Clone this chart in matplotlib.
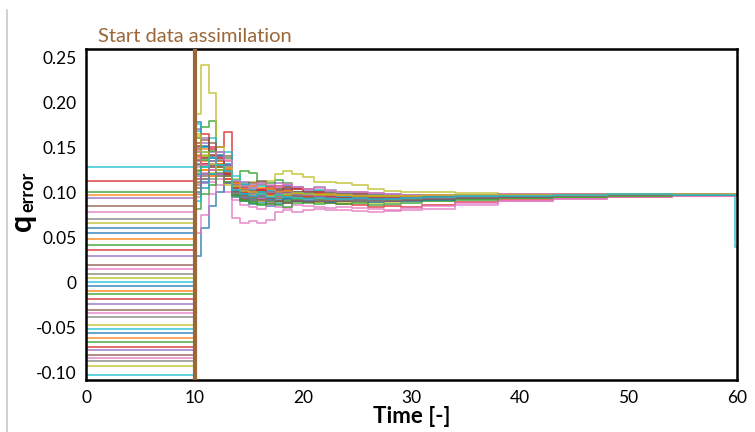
import numpy as np
import matplotlib.pyplot as plt
from matplotlib.lines import Line2D

plt.rcParams['font.family'] = ['Lato', 'DejaVu Sans']

# times where the ensemble values change (step plot), first entry is t=0
times = [0, 10, 10.6, 11.3, 12, 12.7, 13.5, 14.2, 15, 15.8, 16.6, 17.4, 18.2,
         19, 20, 21, 22, 23, 24.5, 26, 27.5, 29, 31, 34, 38, 43, 48, 54]
t_last = 59.8
t_end = 60

# q_error of each member before data assimilation starts
q_init = [.060, .097, .100, .113, .094, .085, .078, .070, .066, .128,
          .055, .048, .042, .036, .030, .020, .015, .010, .005, .001,
          -.004, -.009, -.013, -.018, -.024, -.030, -.034, -.038, -.047, -.052,
          -.056, -.061, -.066, -.071, -.075, -.080, -.084, -.087, -.093, -.102]

# q_error of each member from t=10 on (one row per member)
q_post = [
    [.178, .150, .135, .128, .120, .105, .101, .098, .103, .099, .101, .104, .100, .098, .097, .099, .096, .095, .094, .095, .096, .095, .096, .097, .097, .097, .098],
    [.110, .125, .118, .130, .122, .100, .096, .093, .095, .098, .094, .097, .099, .096, .098, .097, .095, .094, .093, .094, .095, .095, .096, .096, .097, .097, .097],
    [.160, .172, .179, .140, .125, .108, .124, .121, .112, .110, .114, .110, .106, .104, .102, .100, .101, .099, .098, .097, .097, .096, .097, .098, .097, .098, .098],
    [.140, .132, .138, .150, .167, .112, .104, .099, .102, .097, .094, .096, .092, .090, .091, .088, .087, .086, .084, .085, .084, .086, .089, .092, .094, .095, .096],
    [.150, .160, .145, .138, .128, .110, .106, .108, .104, .107, .110, .108, .106, .104, .106, .103, .101, .100, .099, .098, .097, .097, .097, .098, .098, .098, .098],
    [.120, .115, .128, .135, .118, .098, .093, .090, .092, .088, .090, .093, .091, .094, .092, .093, .091, .092, .090, .091, .092, .093, .094, .095, .096, .097, .097],
    [.095, .105, .112, .108, .100, .072, .066, .068, .066, .069, .078, .080, .078, .080, .082, .080, .081, .079, .078, .079, .080, .082, .086, .090, .093, .095, .096],
    [.130, .140, .125, .118, .112, .102, .098, .101, .097, .100, .102, .099, .101, .100, .098, .097, .095, .096, .094, .093, .094, .095, .095, .096, .097, .097, .098],
    [.187, .241, .210, .150, .135, .115, .110, .112, .108, .113, .120, .124, .120, .117, .112, .111, .110, .108, .104, .102, .101, .100, .099, .098, .098, .098, .098],
    [.176, .145, .130, .125, .132, .104, .101, .097, .095, .098, .095, .098, .099, .097, .099, .096, .094, .093, .092, .093, .092, .094, .096, .097, .097, .098, .097],
    [.030, .060, .085, .100, .110, .095, .090, .087, .089, .085, .087, .088, .090, .091, .089, .091, .090, .090, .089, .090, .091, .092, .093, .094, .095, .096, .097],
    [.125, .135, .142, .128, .115, .100, .104, .099, .101, .097, .099, .100, .098, .096, .094, .095, .092, .092, .091, .092, .093, .094, .095, .096, .096, .097, .097],
    [.145, .128, .120, .140, .138, .106, .097, .095, .093, .092, .090, .089, .090, .088, .089, .090, .091, .090, .091, .092, .093, .093, .094, .095, .096, .097, .097],
    [.115, .138, .150, .132, .124, .097, .093, .096, .099, .100, .097, .096, .095, .096, .097, .098, .097, .096, .096, .097, .096, .096, .097, .097, .098, .098, .098],
    [.170, .155, .140, .120, .110, .108, .112, .106, .109, .103, .105, .107, .105, .102, .100, .101, .099, .097, .096, .095, .095, .095, .096, .097, .097, .098, .098],
    [.105, .118, .130, .145, .140, .112, .108, .110, .113, .107, .104, .106, .104, .101, .099, .100, .098, .096, .095, .094, .095, .096, .096, .096, .097, .097, .098],
    [.055, .075, .098, .115, .125, .092, .086, .084, .082, .086, .084, .083, .086, .085, .084, .083, .084, .083, .082, .081, .083, .085, .088, .091, .093, .095, .096],
    [.135, .120, .115, .125, .130, .103, .099, .102, .100, .104, .101, .099, .100, .098, .099, .097, .096, .096, .095, .095, .095, .096, .096, .097, .097, .098, .098],
    [.122, .142, .135, .118, .108, .099, .096, .094, .091, .093, .091, .093, .092, .090, .089, .090, .088, .089, .088, .089, .090, .091, .093, .094, .095, .096, .097],
    [.168, .150, .160, .145, .132, .114, .109, .105, .107, .102, .099, .101, .100, .101, .103, .100, .099, .098, .097, .098, .097, .096, .097, .097, .098, .098, .098],
    [.100, .112, .120, .128, .120, .101, .098, .092, .094, .090, .092, .094, .095, .094, .093, .095, .094, .094, .093, .092, .093, .094, .095, .096, .097, .097, .097],
    [.138, .148, .128, .135, .126, .109, .103, .100, .098, .101, .096, .095, .097, .093, .094, .094, .093, .094, .094, .095, .094, .095, .096, .097, .097, .098, .097],
    [.082, .098, .108, .122, .118, .096, .090, .088, .086, .087, .086, .084, .088, .089, .087, .088, .087, .088, .086, .087, .088, .090, .092, .094, .095, .096, .097],
    [.155, .165, .148, .130, .115, .107, .102, .099, .104, .105, .107, .103, .104, .100, .101, .099, .098, .098, .096, .096, .096, .096, .097, .097, .098, .098, .098],
    [.118, .110, .125, .140, .128, .098, .094, .097, .093, .094, .096, .095, .097, .096, .095, .096, .095, .095, .094, .094, .095, .095, .096, .096, .097, .097, .097],
    [.148, .138, .155, .128, .122, .111, .106, .103, .101, .100, .103, .105, .101, .099, .097, .098, .097, .096, .095, .096, .096, .097, .097, .097, .097, .098, .098],
    [.128, .122, .132, .120, .135, .104, .100, .096, .094, .093, .091, .090, .092, .092, .091, .092, .091, .090, .090, .091, .092, .093, .094, .095, .096, .097, .097],
    [.112, .130, .140, .136, .125, .102, .097, .099, .101, .099, .101, .100, .098, .099, .098, .099, .098, .097, .097, .096, .097, .097, .097, .097, .098, .098, .098],
    [.162, .140, .122, .128, .118, .106, .101, .098, .096, .099, .094, .096, .094, .095, .093, .092, .092, .091, .091, .092, .093, .094, .095, .096, .096, .097, .097],
    [.090, .105, .120, .130, .145, .118, .108, .104, .100, .102, .099, .101, .099, .098, .097, .096, .095, .095, .094, .095, .095, .096, .097, .097, .098, .098, .098],
    [.132, .152, .138, .142, .130, .100, .095, .093, .096, .093, .091, .093, .090, .091, .090, .089, .090, .090, .089, .090, .091, .092, .094, .095, .096, .097, .097],
    [.142, .125, .118, .132, .126, .110, .104, .107, .105, .104, .100, .102, .098, .097, .098, .097, .097, .096, .096, .096, .096, .097, .097, .097, .098, .098, .098],
    [.124, .136, .146, .125, .112, .097, .092, .089, .087, .090, .089, .091, .093, .094, .092, .093, .094, .093, .092, .092, .093, .094, .095, .096, .097, .097, .097],
    [.152, .132, .128, .138, .120, .105, .100, .101, .103, .098, .097, .099, .096, .095, .096, .095, .094, .095, .094, .094, .095, .096, .096, .097, .097, .098, .098],
    [.108, .120, .135, .120, .130, .108, .103, .099, .097, .100, .098, .099, .097, .097, .095, .094, .093, .093, .092, .093, .094, .094, .095, .096, .097, .097, .097],
    [.136, .158, .142, .128, .118, .101, .097, .095, .092, .094, .090, .088, .090, .089, .090, .091, .090, .091, .092, .091, .092, .093, .094, .095, .096, .097, .098],
    [.146, .130, .125, .145, .136, .113, .107, .105, .110, .108, .106, .109, .106, .104, .105, .102, .101, .100, .099, .098, .097, .097, .097, .098, .098, .098, .098],
    [.098, .115, .128, .118, .110, .099, .095, .092, .095, .091, .094, .095, .096, .094, .092, .093, .092, .091, .091, .092, .093, .094, .095, .096, .096, .097, .097],
    [.165, .145, .132, .125, .128, .107, .102, .100, .098, .096, .097, .098, .099, .098, .097, .098, .097, .096, .096, .096, .096, .097, .097, .097, .097, .098, .098],
    [.120, .128, .138, .130, .124, .103, .098, .096, .098, .095, .097, .095, .094, .093, .094, .093, .093, .094, .093, .093, .094, .095, .096, .096, .097, .098, .097],
]

# one member drops at the very last time step
drop_member = 9
drop_value = 0.04

y_ticks = [-0.10, -0.05, 0, 0.05, 0.10, 0.15, 0.20, 0.25]
y_labels = ['-0.10', '-0.05', '0', '0.05', '0.10', '0.15', '0.20', '0.25']
x_ticks = [0, 10, 20, 30, 40, 50, 60]

t_start = 10
brown = '#9b6638'

fig = plt.figure(figsize=(7.55, 4.32), dpi=100)
ax = fig.add_axes([86/755, 1 - 380/432, 651/755, 331/432])

colors = plt.get_cmap('tab10').colors
t_plot = times + [t_last, t_end]
for i, (q0, row) in enumerate(zip(q_init, q_post)):
    last = drop_value if i == drop_member else row[-1]
    vals = [q0] + row + [last, last]
    ax.step(t_plot, vals, where='post', color=colors[i % 10], lw=1.2, alpha=0.8)

ax.axvline(t_start, color=brown, lw=3, zorder=5)
ax.text(t_start, 0.263, 'Start data assimilation', color=brown, fontsize=14.5,
        ha='center', va='bottom')

ax.set_xlim(0, 60)
ax.set_ylim(-0.108, 0.259)
ax.set_xticks(x_ticks)
ax.set_yticks(y_ticks)
ax.set_yticklabels(y_labels)
ax.tick_params(length=0, labelsize=12.5, pad=7)
for s in ax.spines.values():
    s.set_linewidth(1.8)
    s.set_color('black')

ax.set_xlabel('Time [-]', fontsize=16, fontweight='bold', labelpad=0)

# y label: bold q with subscript "error"
fig.text(22/755, 1 - 222/432, 'q', fontsize=22, fontweight='bold',
         rotation=90, ha='center', va='center')
fig.text(28/755, 1 - 192/432, 'error', fontsize=13, fontweight='bold',
         rotation=90, ha='center', va='center')

# thin grey border line on the left of the picture
fig.add_artist(Line2D([7/755, 7/755], [0, 1 - 10/432], color='#c8c8c8', lw=1.2))

plt.savefig('out.png', dpi=100)
